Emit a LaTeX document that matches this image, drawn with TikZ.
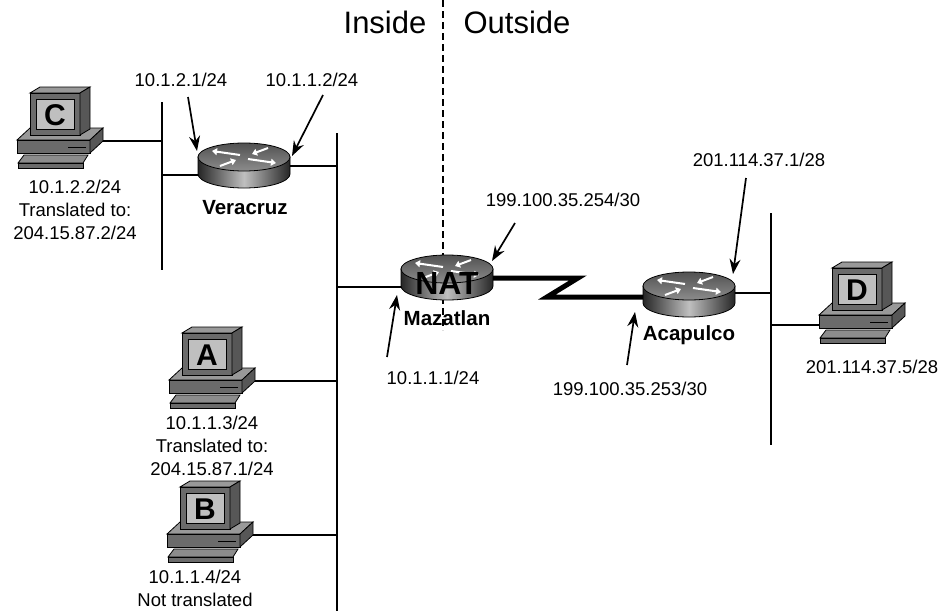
\documentclass[tikz,border=0pt]{standalone}
\usepackage{fontspec}
\setmainfont{Liberation Sans}
\usetikzlibrary{arrows.meta}
\begin{document}
\begin{tikzpicture}[x=1pt,y=-1pt,
  wire/.style={line width=1.7pt},
  serial/.style={line width=5pt,line join=miter},
  callout/.style={line width=1.7pt,-{Stealth[length=15pt,width=11pt,inset=5pt]}},
  boundary/.style={line width=1.6pt,dash pattern=on 7pt off 4pt},
  addr/.style={font=\fontsize{18.5}{23}\selectfont,inner sep=0pt,align=center},
  side/.style={font=\fontsize{31}{36}\selectfont,inner sep=0pt},
  rname/.style={font=\fontsize{20.5}{24}\selectfont\bfseries,inner sep=0pt},
  pcletter/.style={font=\fontsize{30}{30}\selectfont\bfseries,inner sep=0pt},
  natmark/.style={font=\fontsize{32}{32}\selectfont\bfseries,inner sep=0pt},
  casefront/.style={fill=black!58,draw=black,line width=0.8pt},
  casetop/.style={fill=black!40,draw=black,line width=0.8pt},
  caseside/.style={fill=black!66,draw=black,line width=0.8pt},
  screen/.style={fill=black!25,draw=black,line width=0.8pt},
  kbdtop/.style={fill=black!45,draw=black,line width=0.8pt},
  rside/.style={left color=black!85,right color=black!85,middle color=black!25,draw=black,line width=0.8pt},
  rtop/.style={top color=black!68,bottom color=black!45,draw=black,line width=0.8pt},
  rarrow/.style={white,line width=2pt,-{Triangle[length=5pt,width=7pt]}},
  pc/.pic={
    % keyboard
    \filldraw[kbdtop] (-6,62) -- (58,62) -- (53,70) -- (-12,70) -- cycle;
    \filldraw[casefront] (-12,70) rectangle (53,75);
    % system unit
    \filldraw[casetop] (-13,47) -- (60,47) -- (73,35) -- (0,35) -- cycle;
    \filldraw[casefront] (-13,47) rectangle (60,60);
    \filldraw[caseside] (60,47) -- (73,35) -- (73,48) -- (60,60) -- cycle;
    \draw[line width=0.8pt] (38,54) -- (56,54);
    % monitor
    \filldraw[casetop] (0,0) -- (50,0) -- (60,-6) -- (10,-6) -- cycle;
    \filldraw[casefront] (0,0) rectangle (50,42);
    \filldraw[caseside] (50,0) -- (60,-6) -- (60,36) -- (50,42) -- cycle;
    \filldraw[screen] (6,6) rectangle (44,36);
    \node[pcletter] (-letter) at (25,22) {#1};
    \coordinate (-port) at (73,48);
    \coordinate (-lport) at (-13,57);
  },
  router/.pic={
    \path[rside] (-46,0) -- (-46,17)
      arc[start angle=180,end angle=360,x radius=46pt,y radius=14pt]
      -- (46,0) -- cycle;
    \path[rtop] (0,0) ellipse[x radius=46pt,y radius=14pt];
    \draw[rarrow] (-4,-2) -- (-32,-6);
    \draw[rarrow] (4,2) -- (32,6);
    \draw[rarrow] (24,-9) -- (8,-3);
    \draw[rarrow] (-24,9) -- (-8,3);
    \coordinate (-w) at (-46,18);
    \coordinate (-e) at (46,9);
    \coordinate (-sw) at (-46,11);
    \coordinate (-se) at (46,7);
  }
]
\useasboundingbox (0,0) rectangle (943,611);

% inside / outside boundary
\coordinate (bndtop) at (443,0);
\coordinate (bndbot) at (443,330);
\draw[boundary] (bndtop) -- (bndbot);
\node[side] (inside) at (385,22) {Inside};
\node[side] (outside) at (517,22) {Outside};

% LAN segments
\coordinate (lanCt) at (162,102);
\coordinate (lanCb) at (162,270);
\coordinate (lanMt) at (337,133);
\coordinate (lanMb) at (337,611);
\coordinate (lanDt) at (771,213);
\coordinate (lanDb) at (771,445);
\draw[wire] (lanCt) -- (lanCb);
\draw[wire] (lanMt) -- (lanMb);
\draw[wire] (lanDt) -- (lanDb);

% routers
\pic (vr) at (244,157) {router};
\pic (mz) at (447,269) {router};
\pic (ac) at (689,286) {router};
\node[natmark] (nat) at (447,283) {NAT};
\node[rname] (vrname) at (245,208) {Veracruz};
\node[rname] (mzname) at (447,318) {Mazatlan};
\node[rname] (acname) at (689,335) {Acapulco};

% hosts
\pic (pcC) at (30,93) {pc=C};
\pic (pcA) at (182,333) {pc=A};
\pic (pcB) at (180,487) {pc=B};
\pic (pcD) at (832,268) {pc=D};

% host and router attachments
\draw[wire] (pcC-port) -- (pcC-port -| lanCt);
\draw[wire] (vr-w) -- (vr-w -| lanCt);
\draw[wire] (vr-e) -- (vr-e -| lanMt);
\draw[wire] (mz-w) -- (mz-w -| lanMt);
\draw[wire] (pcA-port) -- (pcA-port -| lanMt);
\draw[wire] (pcB-port) -- (pcB-port -| lanMt);
\draw[wire] (ac-se) -- (ac-se -| lanDt);
\draw[wire] (pcD-lport) -- (pcD-lport -| lanDt);

% serial link
\coordinate (zigA) at (578,278);
\coordinate (zigB) at (547,297);
\draw[serial] (mz-e) -- (zigA) -- (zigB) -- (ac-sw);

% host addresses
\node[addr] (addrC) at (75,210) {10.1.2.2/24\\Translated to:\\204.15.87.2/24};
\node[addr] (addrA) at (212,446) {10.1.1.3/24\\Translated to:\\204.15.87.1/24};
\node[addr] (addrB) at (195,588) {10.1.1.4/24\\Not translated};
\node[addr] (addrD) at (872,367) {201.114.37.5/28};

% interface addresses
\node[addr] (ifVc) at (181,80) {10.1.2.1/24};
\node[addr] (ifVm) at (312,80) {10.1.1.2/24};
\node[addr] (ifMs) at (563,200) {199.100.35.254/30};
\node[addr] (ifMi) at (433,378) {10.1.1.1/24};
\node[addr] (ifAs) at (630,389) {199.100.35.253/30};
\node[addr] (ifAl) at (759,160) {201.114.37.1/28};

\coordinate (cVcS) at (188,97);   \coordinate (cVcE) at (197,151);
\coordinate (cVmS) at (323,95);   \coordinate (cVmE) at (292,156);
\coordinate (cMsS) at (515,223);  \coordinate (cMsE) at (492,261);
\coordinate (cMiS) at (387,357);  \coordinate (cMiE) at (397,295);
\coordinate (cAsS) at (627,365);  \coordinate (cAsE) at (635,312);
\coordinate (cAlS) at (746,178);  \coordinate (cAlE) at (733,274);
\draw[callout] (cVcS) -- (cVcE);
\draw[callout] (cVmS) -- (cVmE);
\draw[callout] (cMsS) -- (cMsE);
\draw[callout] (cMiS) -- (cMiE);
\draw[callout] (cAsS) -- (cAsE);
\draw[callout] (cAlS) -- (cAlE);
\end{tikzpicture}
\end{document}
